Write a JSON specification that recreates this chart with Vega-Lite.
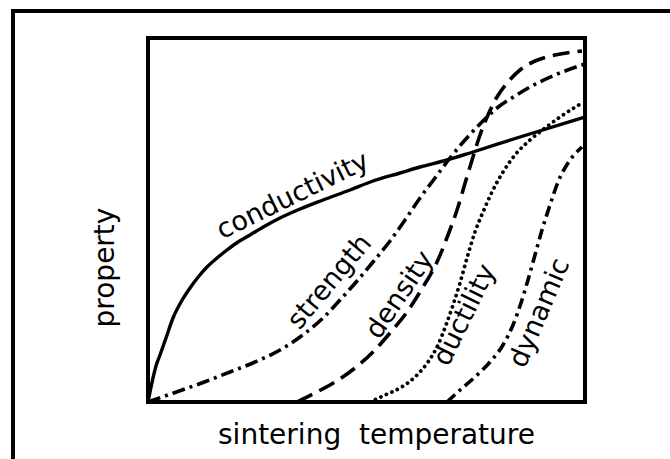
{
  "$schema": "https://vega.github.io/schema/vega-lite/v6.json",
  "width": 437,
  "height": 364,
  "autosize": "none",
  "padding": {"left": 148, "top": 38, "right": 85, "bottom": 57},
  "background": "white",
  "config": {
    "view": {"stroke": "black", "strokeWidth": 4},
    "font": "DejaVu Sans"
  },
  "datasets": {
    "curves": [
      {"series": "conductivity", "x": 0, "y": 0},
      {"series": "conductivity", "x": 2, "y": 10},
      {"series": "conductivity", "x": 5, "y": 24},
      {"series": "conductivity", "x": 8, "y": 36},
      {"series": "conductivity", "x": 12, "y": 47},
      {"series": "conductivity", "x": 18, "y": 64},
      {"series": "conductivity", "x": 25, "y": 84},
      {"series": "conductivity", "x": 33, "y": 100},
      {"series": "conductivity", "x": 42, "y": 114},
      {"series": "conductivity", "x": 51, "y": 126},
      {"series": "conductivity", "x": 59, "y": 135},
      {"series": "conductivity", "x": 69, "y": 144},
      {"series": "conductivity", "x": 79, "y": 152},
      {"series": "conductivity", "x": 90, "y": 160},
      {"series": "conductivity", "x": 102, "y": 167},
      {"series": "conductivity", "x": 117, "y": 176},
      {"series": "conductivity", "x": 132, "y": 184},
      {"series": "conductivity", "x": 152, "y": 193},
      {"series": "conductivity", "x": 175, "y": 202},
      {"series": "conductivity", "x": 202, "y": 212},
      {"series": "conductivity", "x": 225, "y": 221},
      {"series": "conductivity", "x": 252, "y": 229},
      {"series": "conductivity", "x": 272, "y": 235},
      {"series": "conductivity", "x": 299, "y": 242},
      {"series": "conductivity", "x": 325, "y": 250},
      {"series": "conductivity", "x": 372, "y": 265},
      {"series": "conductivity", "x": 437, "y": 285},
      {"series": "strength", "x": 0, "y": 0},
      {"series": "strength", "x": 17, "y": 6},
      {"series": "strength", "x": 37, "y": 13},
      {"series": "strength", "x": 59, "y": 21},
      {"series": "strength", "x": 82, "y": 30},
      {"series": "strength", "x": 107, "y": 40},
      {"series": "strength", "x": 132, "y": 52},
      {"series": "strength", "x": 152, "y": 65},
      {"series": "strength", "x": 175, "y": 84},
      {"series": "strength", "x": 192, "y": 102},
      {"series": "strength", "x": 209, "y": 121},
      {"series": "strength", "x": 225, "y": 140},
      {"series": "strength", "x": 242, "y": 161},
      {"series": "strength", "x": 257, "y": 182},
      {"series": "strength", "x": 272, "y": 204},
      {"series": "strength", "x": 287, "y": 224},
      {"series": "strength", "x": 302, "y": 244},
      {"series": "strength", "x": 317, "y": 262},
      {"series": "strength", "x": 332, "y": 278},
      {"series": "strength", "x": 349, "y": 294},
      {"series": "strength", "x": 367, "y": 306},
      {"series": "strength", "x": 382, "y": 315},
      {"series": "strength", "x": 407, "y": 327},
      {"series": "strength", "x": 437, "y": 338},
      {"series": "density", "x": 149, "y": 0},
      {"series": "density", "x": 167, "y": 9},
      {"series": "density", "x": 187, "y": 20},
      {"series": "density", "x": 207, "y": 34},
      {"series": "density", "x": 225, "y": 50},
      {"series": "density", "x": 242, "y": 69},
      {"series": "density", "x": 259, "y": 90},
      {"series": "density", "x": 275, "y": 115},
      {"series": "density", "x": 289, "y": 140},
      {"series": "density", "x": 300, "y": 167},
      {"series": "density", "x": 310, "y": 195},
      {"series": "density", "x": 318, "y": 222},
      {"series": "density", "x": 325, "y": 245},
      {"series": "density", "x": 332, "y": 267},
      {"series": "density", "x": 340, "y": 287},
      {"series": "density", "x": 349, "y": 305},
      {"series": "density", "x": 360, "y": 320},
      {"series": "density", "x": 372, "y": 332},
      {"series": "density", "x": 387, "y": 341},
      {"series": "density", "x": 407, "y": 347},
      {"series": "density", "x": 434, "y": 351},
      {"series": "ductility", "x": 222, "y": 0},
      {"series": "ductility", "x": 237, "y": 7},
      {"series": "ductility", "x": 252, "y": 14},
      {"series": "ductility", "x": 267, "y": 25},
      {"series": "ductility", "x": 280, "y": 40},
      {"series": "ductility", "x": 290, "y": 57},
      {"series": "ductility", "x": 298, "y": 77},
      {"series": "ductility", "x": 305, "y": 97},
      {"series": "ductility", "x": 312, "y": 119},
      {"series": "ductility", "x": 319, "y": 144},
      {"series": "ductility", "x": 327, "y": 170},
      {"series": "ductility", "x": 335, "y": 190},
      {"series": "ductility", "x": 344, "y": 210},
      {"series": "ductility", "x": 355, "y": 230},
      {"series": "ductility", "x": 367, "y": 247},
      {"series": "ductility", "x": 382, "y": 262},
      {"series": "ductility", "x": 397, "y": 274},
      {"series": "ductility", "x": 412, "y": 285},
      {"series": "ductility", "x": 434, "y": 299},
      {"series": "dynamic", "x": 299, "y": 0},
      {"series": "dynamic", "x": 312, "y": 12},
      {"series": "dynamic", "x": 327, "y": 25},
      {"series": "dynamic", "x": 342, "y": 40},
      {"series": "dynamic", "x": 355, "y": 57},
      {"series": "dynamic", "x": 365, "y": 77},
      {"series": "dynamic", "x": 373, "y": 99},
      {"series": "dynamic", "x": 380, "y": 122},
      {"series": "dynamic", "x": 387, "y": 147},
      {"series": "dynamic", "x": 394, "y": 172},
      {"series": "dynamic", "x": 402, "y": 197},
      {"series": "dynamic", "x": 410, "y": 220},
      {"series": "dynamic", "x": 420, "y": 239},
      {"series": "dynamic", "x": 434, "y": 255}
    ],
    "labels": [
      {"label": "conductivity", "x": 145, "y": 206},
      {"label": "strength", "x": 182, "y": 120},
      {"label": "density", "x": 252, "y": 107},
      {"label": "ductility", "x": 317, "y": 87},
      {"label": "dynamic", "x": 392, "y": 89}
    ],
    "frame": [
      {"side": "left", "x": -135, "x2": -135, "y": 393, "y2": -57},
      {"side": "top", "x": -137, "x2": 522, "y": 391, "y2": 391}
    ]
  },
  "encoding": {
    "x": {
      "field": "x", "type": "quantitative",
      "scale": {"domain": [0, 437], "nice": false, "zero": false},
      "axis": {
        "title": "sintering\u00a0\u00a0temperature",
        "domain": false, "ticks": false, "labels": false, "grid": false,
        "titleFont": "DejaVu Sans", "titleFontSize": 28, "titleFontWeight": "normal",
        "titleColor": "black", "titleBaseline": "alphabetic", "titleAlign": "center",
        "titleX": 228, "titleY": 41
      }
    },
    "y": {
      "field": "y", "type": "quantitative",
      "scale": {"domain": [0, 364], "nice": false, "zero": false},
      "axis": {
        "title": "property",
        "domain": false, "ticks": false, "labels": false, "grid": false,
        "titleFont": "DejaVu Sans", "titleFontSize": 28, "titleFontWeight": "normal",
        "titleColor": "black", "titleBaseline": "alphabetic", "titleAngle": -90,
        "titleAlign": "center", "titleX": -35, "titleY": 229
      }
    }
  },
  "layer": [
    {
      "data": {"name": "frame"},
      "mark": {"type": "rule", "color": "black", "strokeWidth": 4, "strokeCap": "butt", "clip": false},
      "encoding": {
        "x2": {"field": "x2"},
        "y2": {"field": "y2"}
      }
    },
    {
      "data": {"name": "curves"},
      "transform": [{"filter": "datum.series === 'conductivity'"}],
      "mark": {"type": "line", "color": "black", "strokeWidth": 3.4, "interpolate": "monotone"}
    },
    {
      "data": {"name": "curves"},
      "transform": [{"filter": "datum.series === 'strength'"}],
      "mark": {"type": "line", "color": "black", "strokeWidth": 3.6, "interpolate": "monotone", "strokeDash": [13, 5, 3, 5]}
    },
    {
      "data": {"name": "curves"},
      "transform": [{"filter": "datum.series === 'density'"}],
      "mark": {"type": "line", "color": "black", "strokeWidth": 3.6, "interpolate": "monotone", "strokeDash": [17, 8]}
    },
    {
      "data": {"name": "curves"},
      "transform": [{"filter": "datum.series === 'ductility'"}],
      "mark": {"type": "line", "color": "black", "strokeWidth": 3.8, "interpolate": "monotone", "strokeCap": "round", "strokeDash": [0.01, 6]}
    },
    {
      "data": {"name": "curves"},
      "transform": [{"filter": "datum.series === 'dynamic'"}],
      "mark": {"type": "line", "color": "black", "strokeWidth": 3.6, "interpolate": "monotone", "strokeDash": [11, 5, 3, 5]}
    },
    {
      "data": {"name": "labels"},
      "transform": [{"filter": "datum.label === 'conductivity'"}],
      "mark": {"type": "text", "font": "DejaVu Sans", "fontSize": 27, "color": "black", "angle": -26, "align": "center", "baseline": "middle"},
      "encoding": {"text": {"field": "label"}}
    },
    {
      "data": {"name": "labels"},
      "transform": [{"filter": "datum.label === 'strength'"}],
      "mark": {"type": "text", "font": "DejaVu Sans", "fontSize": 27, "color": "black", "angle": -50, "align": "center", "baseline": "middle"},
      "encoding": {"text": {"field": "label"}}
    },
    {
      "data": {"name": "labels"},
      "transform": [{"filter": "datum.label === 'density'"}],
      "mark": {"type": "text", "font": "DejaVu Sans", "fontSize": 27, "color": "black", "angle": -56, "align": "center", "baseline": "middle"},
      "encoding": {"text": {"field": "label"}}
    },
    {
      "data": {"name": "labels"},
      "transform": [{"filter": "datum.label === 'ductility'"}],
      "mark": {"type": "text", "font": "DejaVu Sans", "fontSize": 27, "color": "black", "angle": -64, "align": "center", "baseline": "middle"},
      "encoding": {"text": {"field": "label"}}
    },
    {
      "data": {"name": "labels"},
      "transform": [{"filter": "datum.label === 'dynamic'"}],
      "mark": {"type": "text", "font": "DejaVu Sans", "fontSize": 27, "color": "black", "angle": -67, "align": "center", "baseline": "middle"},
      "encoding": {"text": {"field": "label"}}
    }
  ]
}
